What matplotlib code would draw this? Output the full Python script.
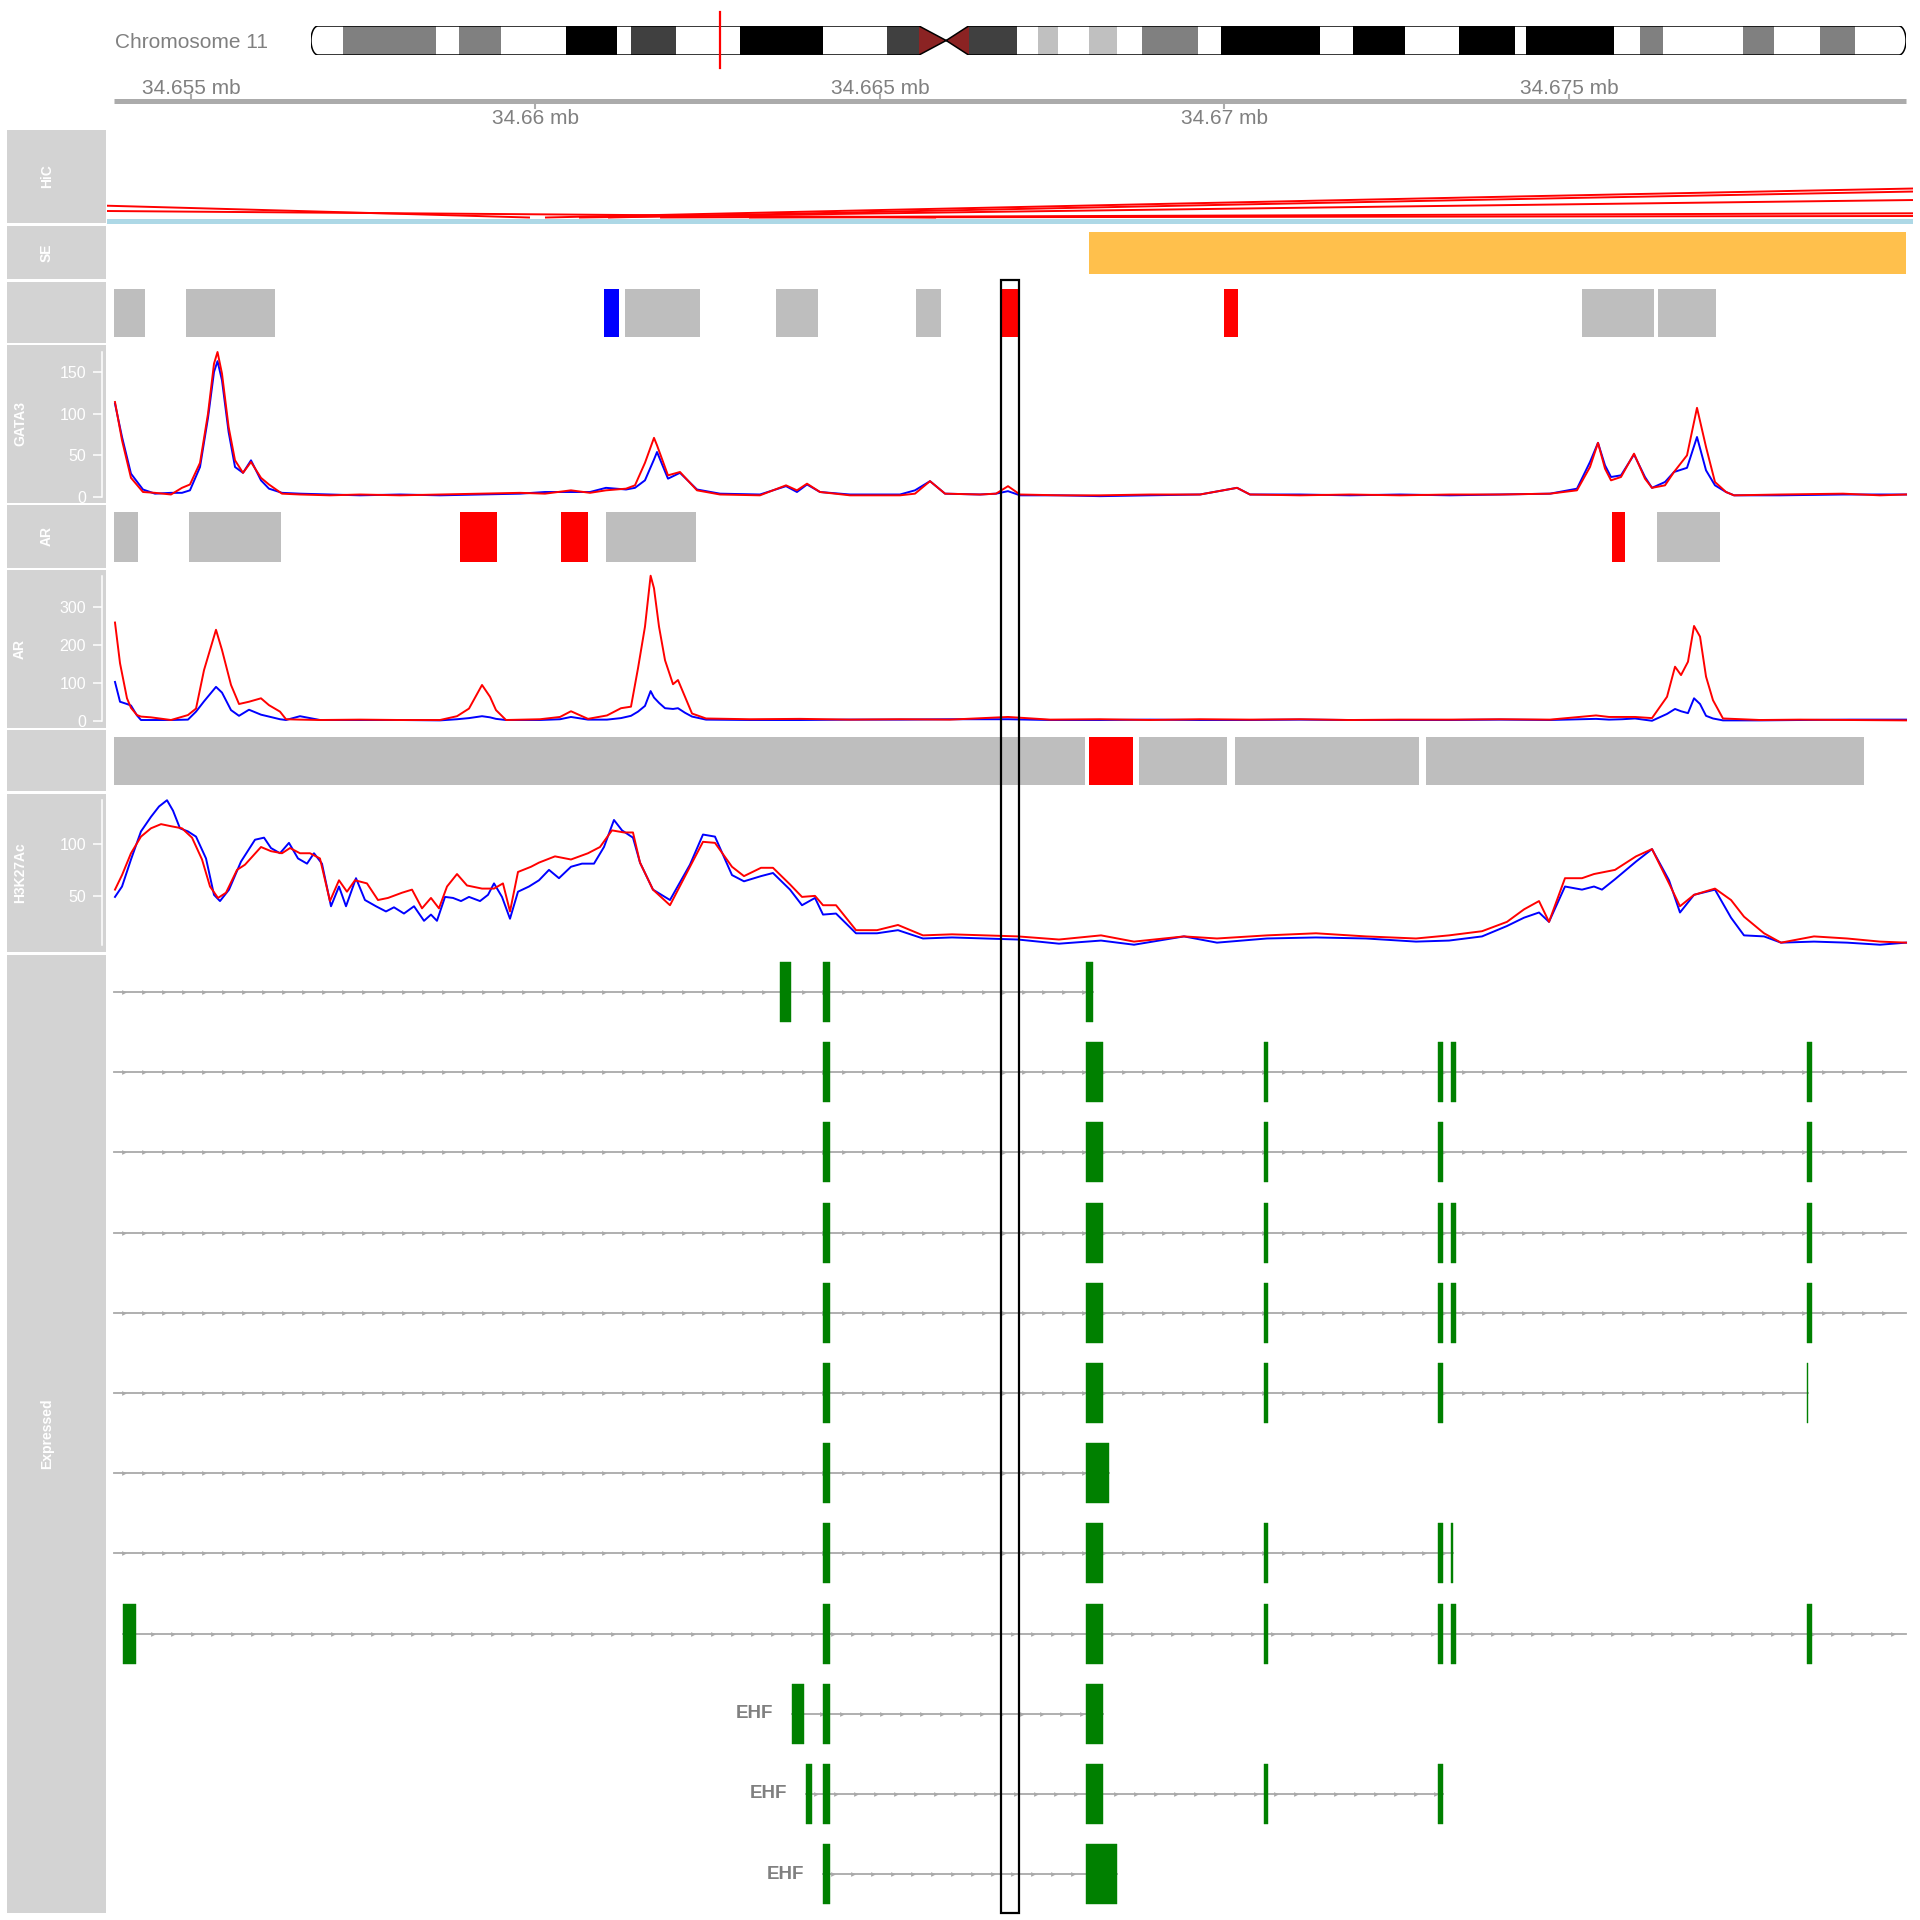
import numpy as np
import matplotlib
matplotlib.use("Agg")
import matplotlib.pyplot as plt
from matplotlib.patches import Rectangle, PathPatch
from matplotlib.path import Path

plt.rcParams['font.family'] = ['Liberation Sans', 'DejaVu Sans']

# ---------------- data ----------------
VIEW = (34653880, 34679890)          # plotted region, chr11
XLIM = (34653781, 34679993)

# ideogram of chromosome 11 (Mb)
band_edges = [0, 2.7, 10.6, 12.5, 16.1, 21.6, 25.9, 27.1, 30.9, 36.3, 43.4, 48.8,
              51.5, 53.8, 55.7, 59.8, 61.6, 63.3, 65.9, 68.3, 70.4, 75.1, 77.1,
              85.5, 88.3, 92.7, 97.2, 102.0, 102.9, 110.4, 112.6, 114.5, 121.3,
              123.9, 127.8, 130.8, 135.1]
band_stain = ['gneg', 'gpos50', 'gneg', 'gpos50', 'gneg', 'gpos100', 'gneg', 'gpos75',
              'gneg', 'gpos100', 'gneg', 'gpos75', 'acen', 'acen', 'gpos75', 'gneg',
              'gpos25', 'gneg', 'gpos25', 'gneg', 'gpos50', 'gneg', 'gpos100', 'gneg',
              'gpos100', 'gneg', 'gpos100', 'gneg', 'gpos100', 'gneg', 'gpos50', 'gneg',
              'gpos50', 'gneg', 'gpos50', 'gneg']
stain_col = {'gneg': '#FFFFFF', 'gpos25': '#C0C0C0', 'gpos50': '#808080',
             'gpos75': '#404040', 'gpos100': '#000000', 'acen': '#8B2323'}

axis_ticks = [34655000, 34660000, 34665000, 34670000, 34675000]

# HiC interactions: anchor start, anchor end, arc height
hic_start = [34400000, 34400000, 34660152, 34661067, 34660646, 34661822, 34663113]
hic_end = [34659906, 34665800, 34950000, 34950000, 34950000, 34950000, 34950000]
hic_height = [128, 37.6, 113.6, 106, 70, 17.8, 6.8]

se_start = [34668034]
se_end = [34679892]

pk1_start = [34653882, 34654927, 34660994, 34661299, 34663491, 34665523, 34666771,
             34669993, 34675189, 34676292]
pk1_end = [34654332, 34656219, 34661212, 34662388, 34664100, 34665886, 34667018,
           34670196, 34676234, 34677134]
pk1_col = ['gray', 'gray', 'blue', 'gray', 'gray', 'gray', 'red', 'red', 'gray', 'gray']

ar_pk_start = [34653882, 34654971, 34658904, 34660370, 34661023, 34675624, 34676278]
ar_pk_end = [34654231, 34656306, 34659441, 34660762, 34662330, 34675813, 34677192]
ar_pk_col = ['gray', 'gray', 'red', 'red', 'gray', 'red', 'gray']

pk3_start = [34653882, 34668034, 34668759, 34670153, 34672925]
pk3_end = [34667975, 34668672, 34670036, 34672823, 34679282]
pk3_col = ['gray', 'red', 'gray', 'gray', 'gray']

highlight = (34666756, 34667018)

gata3_pos = [34653897, 34653999, 34654129, 34654303, 34654477, 34654710, 34654869,
             34654985, 34655131, 34655247, 34655334, 34655385, 34655450, 34655546,
             34655639, 34655755, 34655871, 34656016, 34656132, 34656321, 34656582,
             34657017, 34657453, 34658033, 34658614, 34659195, 34659775, 34660138,
             34660515, 34660791, 34661023, 34661314, 34661444, 34661589, 34661720,
             34661764, 34661923, 34662097, 34662344, 34662678, 34663258, 34663636,
             34663795, 34663941, 34664129, 34664565, 34665290, 34665508, 34665726,
             34665944, 34666452, 34666684, 34666858, 34667032, 34667613, 34668193,
             34668919, 34669645, 34670182, 34670370, 34671096, 34671822, 34672547,
             34673273, 34673999, 34674725, 34675116, 34675305, 34675421, 34675523,
             34675610, 34675755, 34675944, 34676103, 34676205, 34676394, 34676524,
             34676713, 34676858, 34676989, 34677119, 34677279, 34677395, 34678063,
             34678977, 34679514, 34679892]
gata3_red = [114, 68, 23, 6, 5, 3, 11, 15, 41, 100, 160, 174, 148, 84, 44, 29, 42, 23,
             15, 4, 3, 2, 3, 2, 3, 4, 5, 4, 8, 5, 8, 10, 14, 41, 71, 62, 26, 30, 8, 3,
             2, 14, 8, 16, 6, 2, 2, 4, 19, 4, 3, 4, 13, 3, 2, 2, 3, 3, 11, 3, 2, 3, 2,
             3, 3, 4, 8, 36, 65, 34, 20, 24, 52, 22, 11, 14, 30, 50, 107, 60, 18, 6, 2,
             3, 4, 2, 3]
gata3_blue = [112, 72, 28, 9, 4, 5, 5, 8, 36, 95, 150, 163, 140, 78, 36, 29, 44, 20,
              10, 5, 4, 3, 2, 3, 2, 3, 4, 6, 6, 6, 11, 9, 11, 20, 45, 54, 22, 29, 9, 4,
              3, 13, 6, 15, 6, 3, 3, 8, 19, 4, 3, 4, 7, 2, 2, 1, 2, 3, 11, 3, 3, 2, 3,
              2, 3, 4, 10, 42, 65, 38, 24, 26, 51, 24, 11, 18, 30, 35, 72, 32, 14, 6, 2,
              2, 3, 3, 3]

ar_pos = [34653897, 34653970, 34654071, 34654129, 34654216, 34654274, 34654419,
          34654710, 34654956, 34655073, 34655189, 34655363, 34655450, 34655581,
          34655697, 34655842, 34656016, 34656132, 34656292, 34656379, 34656582,
          34656872, 34657453, 34658033, 34658614, 34658861, 34659035, 34659224,
          34659340, 34659427, 34659572, 34660065, 34660356, 34660515, 34660762,
          34661038, 34661241, 34661386, 34661488, 34661589, 34661671, 34661720,
          34661793, 34661880, 34661996, 34662068, 34662170, 34662272, 34662475,
          34663113, 34663839, 34664565, 34665290, 34666016, 34666858, 34667468,
          34668193, 34668919, 34669645, 34670370, 34671096, 34671822, 34672547,
          34673273, 34673999, 34674725, 34675392, 34675581, 34675770, 34675958,
          34676205, 34676423, 34676539, 34676626, 34676727, 34676815, 34676902,
          34676989, 34677090, 34677235, 34677772, 34678353, 34679079, 34679892]
ar_red = [259, 152, 60, 35, 16, 12, 10, 3, 16, 33, 134, 240, 187, 95, 45, 51, 60, 42,
          25, 5, 4, 3, 4, 3, 3, 13, 33, 95, 64, 29, 3, 5, 11, 26, 6, 15, 34, 38, 139,
          248, 382, 349, 248, 160, 97, 108, 64, 20, 7, 5, 6, 4, 5, 4, 11, 4, 5, 3, 5,
          4, 5, 3, 4, 4, 5, 4, 15, 11, 11, 11, 8, 64, 143, 121, 156, 250, 222, 117, 55,
          7, 3, 4, 3, 2]
ar_blue = [103, 51, 45, 41, 15, 3, 3, 3, 4, 25, 52, 90, 75, 29, 14, 30, 17, 12, 5, 3,
           13, 3, 3, 3, 2, 5, 8, 13, 10, 6, 3, 3, 5, 11, 4, 4, 8, 14, 25, 40, 79, 62,
           48, 34, 32, 34, 22, 12, 4, 3, 3, 4, 4, 5, 5, 3, 3, 4, 3, 3, 4, 3, 3, 3, 4,
           3, 6, 4, 5, 7, 1, 19, 32, 26, 21, 60, 45, 14, 7, 2, 2, 3, 4, 4]

h3_red_pos = [34653897, 34653999, 34654129, 34654274, 34654419, 34654565, 34654710,
              34654869, 34655015, 34655160, 34655276, 34655392, 34655508, 34655668,
              34655784, 34656016, 34656161, 34656321, 34656437, 34656582, 34656727,
              34656872, 34657017, 34657148, 34657264, 34657380, 34657554, 34657714,
              34657859, 34658062, 34658208, 34658353, 34658483, 34658599, 34658716,
              34658861, 34659006, 34659224, 34659398, 34659528, 34659630, 34659746,
              34659935, 34660051, 34660283, 34660515, 34660762, 34660936, 34661110,
              34661285, 34661415, 34661517, 34661705, 34661952, 34662242, 34662431,
              34662605, 34662852, 34663026, 34663273, 34663447, 34663694, 34663868,
              34664057, 34664173, 34664362, 34664652, 34664957, 34665261, 34665624,
              34666045, 34666524, 34667003, 34667598, 34668208, 34668687, 34669412,
              34669891, 34670617, 34671328, 34672054, 34672780, 34673259, 34673738,
              34674100, 34674347, 34674565, 34674710, 34674942, 34675189, 34675363,
              34675668, 34675973, 34676205, 34676452, 34676611, 34676815, 34677119,
              34677352, 34677540, 34677831, 34678077, 34678556, 34679035, 34679514,
              34679892]
h3_red = [56, 70, 91, 107, 115, 119, 117, 115, 106, 85, 59, 48, 53, 75, 80, 97, 93, 91,
          96, 91, 91, 86, 45, 65, 54, 65, 62, 46, 48, 53, 56, 38, 48, 38, 59, 71, 60,
          57, 57, 62, 35, 73, 78, 82, 88, 85, 91, 97, 113, 111, 111, 82, 56, 41, 78,
          102, 101, 78, 69, 77, 77, 61, 49, 50, 41, 41, 17, 17, 22, 12, 13, 12, 11, 8,
          12, 6, 11, 9, 12, 14, 11, 9, 12, 16, 25, 37, 45, 25, 67, 67, 71, 75, 88, 95,
          62, 40, 51, 57, 46, 30, 14, 5, 11, 9, 6, 5]
h3_blue_pos = [34653897, 34653999, 34654129, 34654274, 34654419, 34654536, 34654652,
               34654739, 34654840, 34654956, 34655073, 34655218, 34655334, 34655421,
               34655552, 34655726, 34655929, 34656060, 34656161, 34656292, 34656422,
               34656553, 34656684, 34656785, 34656901, 34657032, 34657148, 34657250,
               34657395, 34657525, 34657685, 34657830, 34657946, 34658091, 34658237,
               34658382, 34658483, 34658570, 34658687, 34658803, 34658919, 34659035,
               34659195, 34659311, 34659398, 34659514, 34659630, 34659746, 34659906,
               34660051, 34660196, 34660341, 34660515, 34660675, 34660849, 34660994,
               34661139, 34661256, 34661415, 34661517, 34661705, 34661952, 34662242,
               34662431, 34662605, 34662852, 34663026, 34663273, 34663447, 34663694,
               34663868, 34664057, 34664173, 34664362, 34664652, 34664957, 34665261,
               34665624, 34666045, 34666524, 34667003, 34667598, 34668208, 34668687,
               34669412, 34669891, 34670617, 34671328, 34672054, 34672780, 34673259,
               34673738, 34674100, 34674347, 34674565, 34674710, 34674942, 34675189,
               34675363, 34675479, 34675668, 34675973, 34676205, 34676452, 34676611,
               34676815, 34677119, 34677352, 34677540, 34677831, 34678077, 34678556,
               34679035, 34679514, 34679892]
h3_blue = [49, 59, 85, 112, 126, 136, 142, 132, 115, 112, 107, 86, 51, 45, 56, 83, 104,
           106, 96, 91, 101, 86, 81, 91, 81, 40, 59, 40, 67, 46, 40, 35, 39, 33, 40, 26,
           32, 26, 49, 48, 45, 49, 45, 51, 62, 49, 28, 54, 59, 65, 75, 67, 78, 81, 81,
           97, 123, 113, 106, 82, 56, 46, 80, 109, 107, 70, 64, 69, 72, 56, 41, 48, 32,
           33, 14, 14, 17, 9, 10, 9, 8, 4, 7, 3, 11, 5, 9, 10, 9, 6, 7, 11, 21, 29, 34,
           25, 59, 56, 59, 56, 66, 83, 95, 65, 34, 51, 56, 29, 12, 11, 5, 6, 5, 3, 5]

# transcripts of the Expressed track: line extent and exons
tx_start = [34653880, 34653880, 34653880, 34653880, 34653880, 34653880, 34653880,
            34653880, 34654013, 34663723, 34663926, 34664173]
tx_end = [34668092, 34679890, 34679890, 34679890, 34679890, 34678469, 34668324,
          34673317, 34679890, 34668237, 34673172, 34668440]
tx_exons = [
    [(34663549, 34663708), (34664173, 34664274), (34667990, 34668092)],
    [(34664173, 34664274), (34667990, 34668237), (34670574, 34670632),
     (34673099, 34673172), (34673288, 34673360), (34678455, 34678527)],
    [(34664173, 34664274), (34667990, 34668237), (34670574, 34670632),
     (34673099, 34673172), (34678455, 34678527)],
    [(34664173, 34664274), (34667990, 34668237), (34670574, 34670632),
     (34673099, 34673172), (34673288, 34673360), (34678455, 34678527)],
    [(34664173, 34664274), (34667990, 34668237), (34670574, 34670632),
     (34673099, 34673172), (34673288, 34673360), (34678455, 34678527)],
    [(34664173, 34664274), (34667990, 34668237), (34670574, 34670632),
     (34673099, 34673172), (34678455, 34678469)],
    [(34664173, 34664274), (34667990, 34668324)],
    [(34664173, 34664274), (34667990, 34668237), (34670574, 34670632),
     (34673099, 34673172), (34673288, 34673317)],
    [(34654013, 34654202), (34664173, 34664274), (34667990, 34668237),
     (34670574, 34670632), (34673099, 34673172), (34673288, 34673360),
     (34678455, 34678527)],
    [(34663723, 34663897), (34664173, 34664274), (34667990, 34668237)],
    [(34663926, 34664013), (34664173, 34664274), (34667990, 34668237),
     (34670574, 34670632), (34673099, 34673172)],
    [(34664173, 34664274), (34667990, 34668440)],
]
tx_label = ['', '', '', '', '', '', '', '', '', 'EHF', 'EHF', 'EHF']

# ---------------- drawing ----------------
PANEL = '#D3D3D3'
GREY_TXT = '#808080'
BOX_COL = {'gray': '#BEBEBE', 'red': '#FF0000', 'blue': '#0000FF'}

fig = plt.figure(figsize=(19.2, 19.2), dpi=100)
bg = fig.add_axes([0, 0, 1, 1])
bg.set_xlim(0, 1920)
bg.set_ylim(1920, 0)
bg.axis('off')


def box(x0, y0, x1, y1):
    return fig.add_axes([x0 / 1920, 1 - y1 / 1920, (x1 - x0) / 1920, (y1 - y0) / 1920])


def track_axes(top, bottom):
    ax = box(107, top, 1913, bottom)
    ax.set_xlim(XLIM)
    ax.patch.set_visible(False)
    ax.set_xticks([])
    ax.set_yticks([])
    for s in ax.spines.values():
        s.set_visible(False)
    return ax


# label panels
tracks = [('HiC', 130, 223, False), ('SE', 226, 279, False), ('', 282, 343, False),
          ('GATA3', 345, 503, True), ('AR', 505, 568, False), ('AR', 570, 728, True),
          ('', 730, 791, False), ('H3K27Ac', 794, 952, True), ('Expressed', 955, 1913, False)]
for name, top, bot, has_axis in tracks:
    bg.add_patch(Rectangle((7, top), 99, bot - top, fc=PANEL, ec='none'))
    bg.text(20 if has_axis else 47, (top + bot) / 2, name, rotation=90, color='white',
            fontsize=10, fontweight='bold', ha='center', va='center')

# ideogram
bg.text(115, 42, 'Chromosome 11', color=GREY_TXT, fontsize=15, ha='left', va='center')
ax_id = box(311, 26, 1906, 55)
L = band_edges[-1]
ax_id.set_xlim(0, L)
ax_id.set_ylim(0, 1)
ax_id.axis('off')
r = 0.6
acen = [i for i, s in enumerate(band_stain) if s == 'acen']
cl, cm, cr = band_edges[acen[0]], band_edges[acen[0] + 1], band_edges[acen[-1] + 1]
a_r = np.linspace(np.pi / 2, -np.pi / 2, 30)
a_l = np.linspace(3 * np.pi / 2, np.pi / 2, 30)
verts = [(r, 1), (cl, 1), (cm, 0.5), (cr, 1), (L - r, 1)]
verts += [(L - r + r * np.cos(a), 0.5 + 0.5 * np.sin(a)) for a in a_r]
verts += [(cr, 0), (cm, 0.5), (cl, 0), (r, 0)]
verts += [(r + r * np.cos(a), 0.5 + 0.5 * np.sin(a)) for a in a_l]
verts.append((r, 1))
codes = [Path.MOVETO] + [Path.LINETO] * (len(verts) - 2) + [Path.CLOSEPOLY]
outline = PathPatch(Path(verts, codes), fc='none', ec='black', lw=1.1, zorder=3)
ax_id.add_patch(outline)
for i, st in enumerate(band_stain):
    rect = Rectangle((band_edges[i], 0), band_edges[i + 1] - band_edges[i], 1,
                     fc=stain_col[st], ec='none', zorder=1)
    ax_id.add_patch(rect)
    rect.set_clip_path(outline)
mid_mb = (VIEW[0] + VIEW[1]) / 2 / 1e6
ax_id.plot([mid_mb, mid_mb], [-0.45, 1.48], color='#FF0000', lw=1.6, clip_on=False, zorder=4)

# genome axis
ax_ax = box(107, 60, 1913, 125)
ax_ax.set_xlim(XLIM)
ax_ax.set_ylim(125, 60)
ax_ax.axis('off')
ax_ax.plot(VIEW, [101, 101], color='#ABABAB', lw=3.6, solid_capstyle='butt')
for i, t in enumerate(axis_ticks):
    lab = f'{t / 1e6:g} mb'
    if i % 2 == 0:
        ax_ax.plot([t, t], [95, 101], color='#ABABAB', lw=1.5)
        ax_ax.text(t, 88, lab, color=GREY_TXT, fontsize=15, ha='center', va='center')
    else:
        ax_ax.plot([t, t], [101, 108], color='#ABABAB', lw=1.5)
        ax_ax.text(t, 118, lab, color=GREY_TXT, fontsize=15, ha='center', va='center')

# HiC
ax_hic = track_axes(130, 224)
ax_hic.set_ylim(-6.5, 87.5)
ax_hic.axhspan(-6.5, -1.5, color='#ADD8E6', lw=0)
tt = np.linspace(0, 1, 4000)
for s, e, h in zip(hic_start, hic_end, hic_height):
    ax_hic.plot(s + tt * (e - s), 4 * h * tt * (1 - tt), color='#FF0000', lw=1.4)


def draw_boxes(ax, starts, ends, cols):
    ax.set_ylim(0, 1)
    for s, e, c in zip(starts, ends, cols):
        s, e = max(s, VIEW[0]), min(e, VIEW[1])
        ax.add_patch(Rectangle((s, 0.1), e - s, 0.79, fc=BOX_COL.get(c, c), ec='none'))


ax_se = track_axes(226, 279)
draw_boxes(ax_se, se_start, se_end, ['#FFC04C'])
draw_boxes(track_axes(282, 343), pk1_start, pk1_end, pk1_col)
draw_boxes(track_axes(505, 568), ar_pk_start, ar_pk_end, ar_pk_col)
draw_boxes(track_axes(730, 791), pk3_start, pk3_end, pk3_col)


def signal(top, bot, pb, vb, pr, vr, ylim, ticks):
    ax = track_axes(top, bot)
    ax.plot(pb, vb, color='#0000FF', lw=1.4)
    ax.plot(pr, vr, color='#FF0000', lw=1.4)
    ax.set_ylim(ylim)
    sp = ax.spines['left']
    sp.set_visible(True)
    sp.set_position(('outward', 3.6))
    sp.set_color('white')
    sp.set_linewidth(1.1)
    lo = min(min(vb), min(vr), ticks[0])
    sp.set_bounds(lo, max(max(vb), max(vr)))
    ax.set_yticks(ticks)
    ax.tick_params(axis='y', colors='white', length=6.5, width=1.1, labelsize=11.5, pad=5)
    return ax


signal(345, 503, gata3_pos, gata3_blue, gata3_pos, gata3_red, (-7.2, 182.4), [0, 50, 100, 150])
signal(570, 728, ar_pos, ar_blue, ar_pos, ar_red, (-18, 397), [0, 100, 200, 300])
signal(794, 952, h3_blue_pos, h3_blue, h3_red_pos, h3_red, (-4, 148), [50, 100])

# gene models
ax_g = track_axes(955, 1913)
ax_g.set_ylim(11.484, -0.461)
step = (XLIM[1] - XLIM[0]) / 1806 * 20
for i in range(len(tx_start)):
    lo, hi = max(tx_start[i], VIEW[0]), min(tx_end[i], VIEW[1])
    ax_g.plot([lo, hi], [i, i], color='#A9A9A9', lw=1.3, zorder=1)
    xs = np.arange(lo + step / 2, hi - step / 4, step)
    ax_g.plot(xs, [i] * len(xs), ls='none', marker='>', ms=3.4, color='#A9A9A9',
              mec='none', zorder=1)
    for s, e in tx_exons[i]:
        ax_g.add_patch(Rectangle((s, i - 0.374), e - s, 0.748, fc='#008000',
                                 ec='#008000', lw=0.3, zorder=2))
    if tx_label[i]:
        ax_g.annotate(tx_label[i], (lo, i), xytext=(-13.7, 0), textcoords='offset points',
                      ha='right', va='center', color=GREY_TXT, fontsize=13.5,
                      fontweight='bold')

# highlight
ax_h = track_axes(280, 1913)
ax_h.set_ylim(0, 1)
ax_h.add_patch(Rectangle((highlight[0], 0), highlight[1] - highlight[0], 1,
                         fill=False, ec='black', lw=1.6, clip_on=False))

fig.savefig('out.png', dpi=100)
